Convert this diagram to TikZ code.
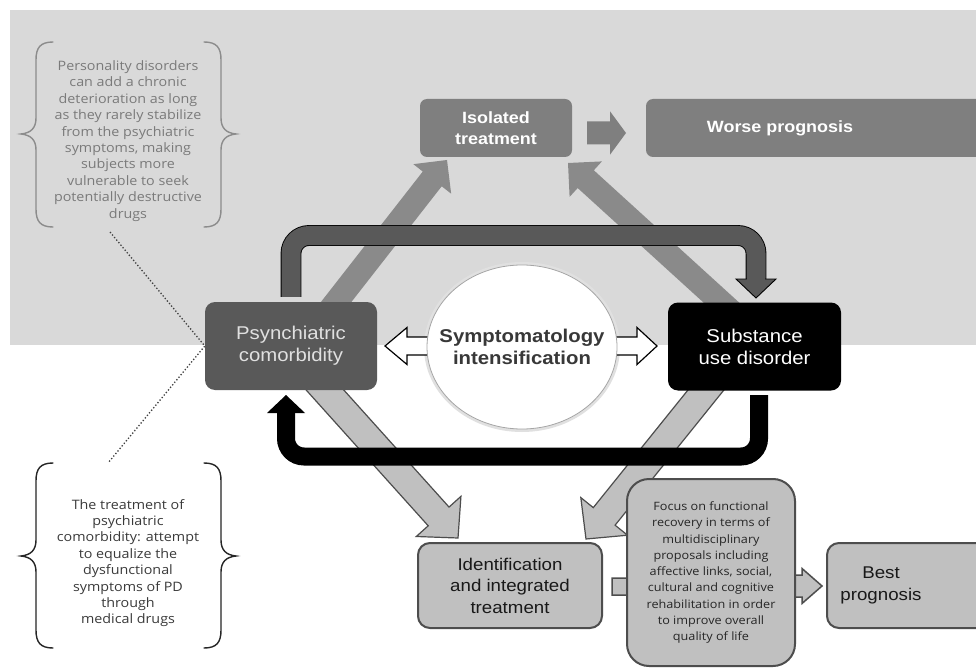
\documentclass[tikz,border=0pt]{standalone}
\usepackage{fontspec}
\setmainfont[FakeStretch=1.1]{Liberation Sans}
\newfontfamily\softfont[FakeStretch=1.1]{Open Sans}
\usetikzlibrary{calc,shapes.geometric}
\definecolor{bggray}{HTML}{D9D9D9}
\definecolor{boxgray}{HTML}{7F7F7F}
\definecolor{midarrow}{HTML}{8A8A8A}
\definecolor{darkbox}{HTML}{595959}
\definecolor{lightbox}{HTML}{C0C0C0}
\definecolor{edgegray}{HTML}{4D4D4D}
\definecolor{notegray}{HTML}{7A7A7A}
\definecolor{notedark}{HTML}{3A3A3A}
\pgfdeclarelayer{bgl}\pgfdeclarelayer{arrl}\pgfdeclarelayer{loopl}
\pgfsetlayers{bgl,arrl,loopl,main}
% block arrow: #1 style, #2 start, #3 tip, #4 shaft half width, #5 head half width, #6 head length
\newcommand{\blockarr}[6]{%
  \path[#1] let \p1=($(#3)-(#2)$), \n1={atan2(\y1,\x1)} in
    ($(#2)+(\n1+90:#4)$)
 -- ($(#3)+(\n1+180:#6)+(\n1+90:#4)$)
 -- ($(#3)+(\n1+180:#6)+(\n1+90:#5)$)
 -- (#3)
 -- ($(#3)+(\n1+180:#6)+(\n1-90:#5)$)
 -- ($(#3)+(\n1+180:#6)+(\n1-90:#4)$)
 -- ($(#2)+(\n1-90:#4)$) -- cycle;}
\begin{document}
\begin{tikzpicture}[x=1pt,y=-1pt,
  box/.style={rectangle, inner sep=0pt, align=center},
  bracec/.style={line width=1.4pt, line cap=round},
  note/.style={inner sep=0pt, align=center, font=\softfont\fontsize{13}{16.4}\selectfont}]
\useasboundingbox (0,0) rectangle (976,668);
\clip (0,0) rectangle (976,668);

\begin{pgfonlayer}{bgl}
  \fill[white] (0,0) rectangle (976,668);
  \fill[bggray] (10,10) rectangle (976,345);
\end{pgfonlayer}

% ---- nodes ----
\node[box, fill=boxgray, rounded corners=7pt, minimum width=152pt, minimum height=58pt,
      text=white, font=\bfseries\fontsize{16.3}{20.5}\selectfont] (iso) at (496,128) {Isolated\\treatment};
\node[box, fill=boxgray, rounded corners=7pt, minimum width=360pt, minimum height=58pt,
      text=white, font=\bfseries\fontsize{16.3}{20}\selectfont] (worse) at (826,128) {Worse prognosis\hspace*{92pt}};
\node[box, fill=darkbox, rounded corners=10pt, minimum width=172pt, minimum height=88pt,
      text=white!88!black, font=\fontsize{18.5}{22}\selectfont] (psy) at (291,346) {Psynchiatric\\comorbidity};
\node[box, fill=black, rounded corners=10pt, minimum width=173pt, minimum height=88pt,
      text=white, font=\fontsize{18.5}{22}\selectfont] (sud) at (754.5,346.5) {Substance\\use disorder};
\node[ellipse, draw=black!35, line width=0.8pt, fill=white, minimum width=190pt, minimum height=164pt,
      inner sep=0pt, align=center, text=black!78,
      font=\bfseries\fontsize{18.5}{22}\selectfont] (ell) at (522,347)
      {\makebox[0pt]{Symptomatology}\\\makebox[0pt]{intensification}};
\node[box, fill=lightbox, draw=edgegray, line width=2pt, rounded corners=12pt, minimum width=184pt,
      minimum height=85pt, text=black!90, font=\fontsize{17}{21.5}\selectfont] (ident) at (510,585.5)
      {Identification\\and integrated\\treatment};
\node[box, fill=lightbox, draw=edgegray, line width=2pt, rounded corners=22pt, minimum width=168pt,
      minimum height=187pt, text=black!85, font=\softfont\fontsize{11.5}{16.25}\selectfont] (focus) at (711,572.5)
      {Focus on functional\\recovery in terms of\\multidisciplinary\\proposals including\\affective links, social,\\cultural and cognitive\\rehabilitation in order\\to improve overall\\quality of life};
\node[box, fill=lightbox, draw=edgegray, line width=2pt, rounded corners=12pt, minimum width=180pt,
      minimum height=85pt, text=black!90, font=\fontsize{17}{22}\selectfont] (best) at (917,585.5)
      {Best\hspace*{72pt}\\prognosis\hspace*{72pt}};

\node[note, text=notegray] (note1) at (128,141) {Personality disorders\\can add a chronic\\deterioration as long\\as they rarely stabilize\\from the psychiatric\\symptoms, making\\subjects more\\vulnerable to seek\\potentially destructive\\drugs};
\node[note, text=notedark] (note2) at (128,563) {The treatment of\\psychiatric\\comorbidity: attempt\\to equalize the\\dysfunctional\\symptoms of PD\\through\hspace*{24pt}\\medical drugs};

% ---- coordinates ----
\coordinate (iwS) at (587,133);   \coordinate (iwE) at (626,133);
\coordinate (m1S) at (326,315);   \coordinate (m1E) at (447,160);
\coordinate (m2S) at (735,315);   \coordinate (m2E) at (568,163);
\coordinate (l1S) at (311.5,375); \coordinate (l1E) at (458,538);
\coordinate (l2S) at (718,375);   \coordinate (l2E) at (586,539);
\coordinate (daLS) at (450,346);  \coordinate (daLE) at (385,346);
\coordinate (daRS) at (595,346);  \coordinate (daRE) at (657,346);
\coordinate (ifS) at (612,586.5); \coordinate (ifE) at (655,586.5);
\coordinate (fbS) at (789,586);   \coordinate (fbE) at (822,586);
\coordinate (dlS) at ($(psy.north)+(0,-5)$);
\coordinate (dlA) at (291,235.5); \coordinate (dlB) at (756,235.5); \coordinate (dlE) at (756,282);
\coordinate (blS) at (759,395);
\coordinate (blA) at (759,456.5); \coordinate (blB) at (286,456.5); \coordinate (blE) at (286,413);
\coordinate (tb) at (110,232);    \coordinate (bb) at (108,463);

% ---- arrows behind ----
\begin{pgfonlayer}{arrl}
  \blockarr{fill=midarrow}{m1S}{m1E}{12pt}{24pt}{24pt}
  \blockarr{fill=midarrow}{m2S}{m2E}{12pt}{24pt}{24pt}
  \blockarr{fill=lightbox, draw=edgegray, line width=1.2pt}{l1S}{l1E}{14pt}{30pt}{29pt}
  \blockarr{fill=lightbox, draw=edgegray, line width=1.2pt}{l2S}{l2E}{14pt}{30pt}{29pt}
  \blockarr{fill=lightbox, draw=edgegray, line width=1.5pt}{ifS}{ifE}{8.5pt}{16pt}{14pt}
  \blockarr{fill=lightbox, draw=edgegray, line width=1.5pt}{fbS}{fbE}{11pt}{17.5pt}{20pt}
\end{pgfonlayer}

\begin{pgfonlayer}{loopl}
  % dark gray loop
  \draw[draw=black, line width=0.9pt, double=darkbox, double distance=19pt, rounded corners=18pt]
    (dlS) -- (dlA) -- (dlB) -- (dlE);
  \filldraw[fill=darkbox, draw=black, line width=0.9pt] (736,279) -- (776,279) -- (756,298) -- cycle;
  \fill[darkbox] (747,276) rectangle (765,280.2);
  % black loop
  \draw[black, line width=18pt, rounded corners=18pt] (blS) -- (blA) -- (blB) -- (blE);
  \fill[black] (267,413) -- (305,413) -- (286,395) -- cycle;
  % ellipse halo
  \draw[black!12, line width=4pt] (522,347) ellipse [x radius=96pt, y radius=83pt];
  % white double arrows
  \blockarr{fill=white, draw=black, line width=1.2pt}{daLS}{daLE}{9pt}{18.5pt}{22pt}
  \blockarr{fill=white, draw=black, line width=1.2pt}{daRS}{daRE}{9pt}{18.5pt}{20pt}
  % dotted links
  \draw[dotted, line width=1.3pt, black!75] (tb) -- (psy.west) -- (bb);
\end{pgfonlayer}

\blockarr{fill=boxgray}{iwS}{iwE}{11.5pt}{21.7pt}{16pt}

% ---- braces ----
\draw[bracec, draw=black!45] (53,42) .. controls (40,42) and (36,48) .. (36,60) -- (36,118)
  .. controls (36,128) and (31,133) .. (21,134) .. controls (31,135) and (36,140) .. (36,150)
  -- (36,209) .. controls (36,221) and (40,227) .. (53,227);
\draw[bracec, draw=black!45] (204,42) .. controls (217,42) and (221,48) .. (221,60) -- (221,118)
  .. controls (221,128) and (226,133) .. (236,134) .. controls (226,135) and (221,140) .. (221,150)
  -- (221,209) .. controls (221,221) and (217,227) .. (204,227);
\draw[bracec, draw=black!85] (53,463) .. controls (40,463) and (36,469) .. (36,481) -- (36,540)
  .. controls (36,550) and (31,555) .. (21,556) .. controls (31,557) and (36,562) .. (36,572)
  -- (36,630) .. controls (36,642) and (40,648) .. (53,648);
\draw[bracec, draw=black!85] (204,463) .. controls (217,463) and (221,469) .. (221,481) -- (221,540)
  .. controls (221,550) and (226,555) .. (236,556) .. controls (226,557) and (221,562) .. (221,572)
  -- (221,630) .. controls (221,642) and (217,648) .. (204,648);
\end{tikzpicture}
\end{document}
